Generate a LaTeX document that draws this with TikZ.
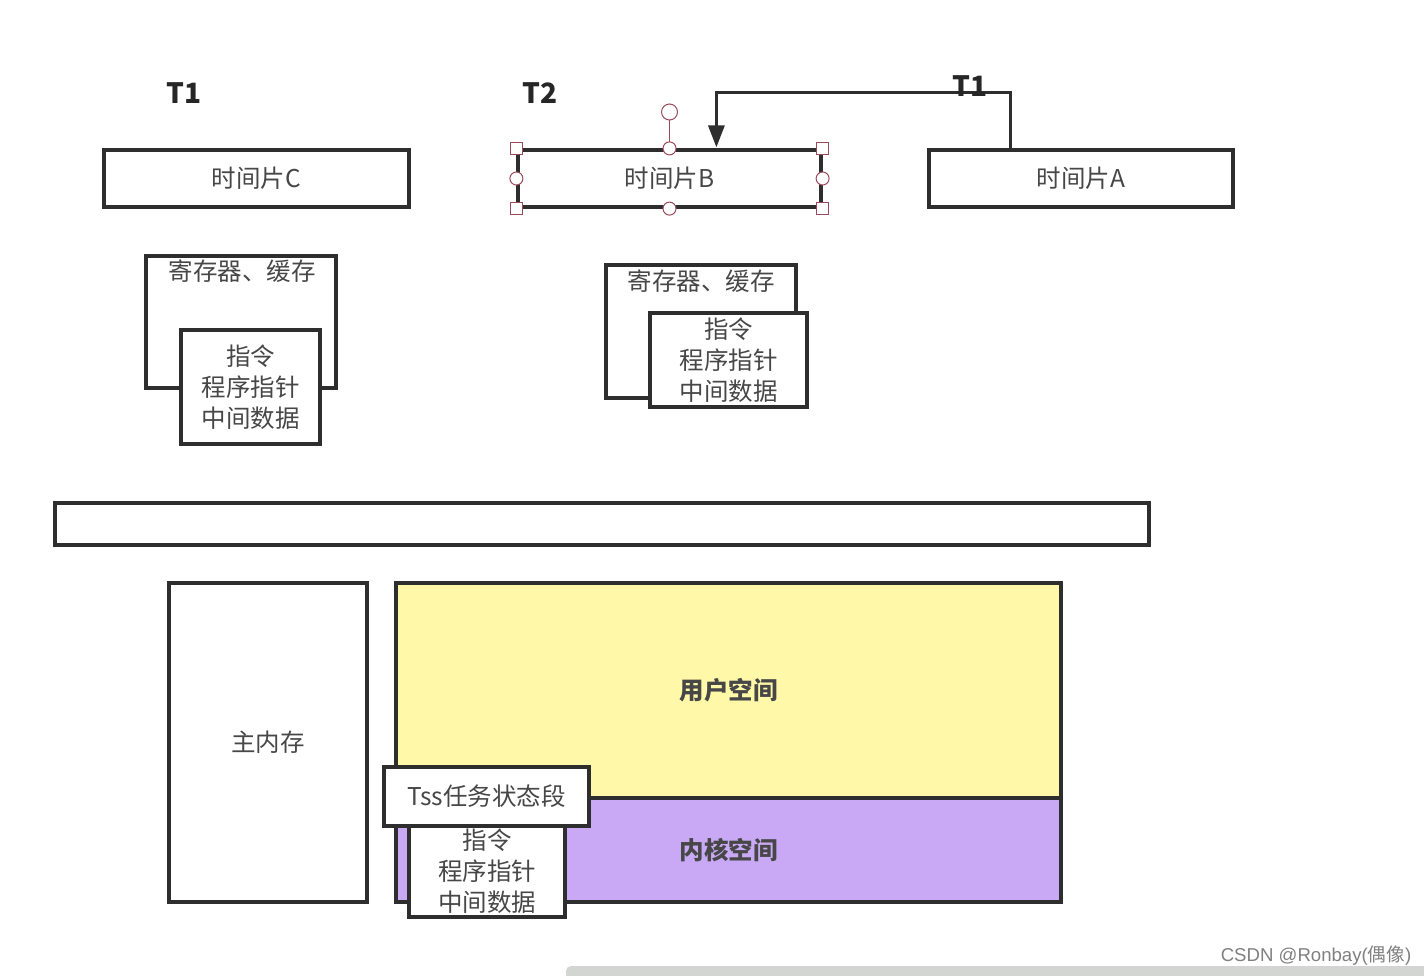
\documentclass[tikz,border=0pt]{standalone}
\usepackage{fontspec}
\setmainfont{Noto Sans CJK SC}
\newfontfamily\wmfont{Liberation Sans}
\newfontfamily\wmcjk{Noto Sans CJK SC}
\usetikzlibrary{arrows.meta}
\definecolor{txt}{HTML}{474747}
\definecolor{edge}{HTML}{2E2E2E}
\definecolor{userfill}{HTML}{FFF8A8}
\definecolor{kernfill}{HTML}{C9A9F5}
\definecolor{handle}{HTML}{9A4A5A}
\definecolor{barg}{HTML}{D3D5D3}
\begin{document}
\begin{tikzpicture}[x=1pt,y=-1pt,
  box/.style={draw=edge, line width=3.2pt, fill=white, inner sep=0pt, text=txt,
    font=\fontsize{24.5}{31}\selectfont, align=center},
  lbl/.style={inner sep=0pt, text=txt, font=\fontsize{24.5}{31}\selectfont, align=center},
  tlabel/.style={inner sep=0pt, text=black!85, font=\fontsize{28}{30}\selectfont\bfseries},
  sq/.style={draw=handle, line width=1pt, fill=white, minimum size=12pt, inner sep=0pt},
  rd/.style={draw=handle, line width=1pt, fill=white, circle, minimum size=13pt, inner sep=0pt},
  conn/.style={draw=edge, line width=3.2pt, -{Triangle[length=22pt,width=16pt]}}]
\useasboundingbox (0,0) rectangle (1424,976);
\fill[white] (0,0) rectangle (1424,976);

% top labels
\node[tlabel] (t1a) at (184,93) {T1};
\node[tlabel] (t2) at (540,93) {T2};

% time slices
\node[box, minimum width=305pt, minimum height=57pt] (tC) at (256.5,178.5) {时间片C};
\node[box, minimum width=303pt, minimum height=57pt] (tB) at (669.5,178.5) {时间片B};
\node[box, minimum width=304pt, minimum height=57pt] (tA) at (1081,178.5) {时间片A};

% connector A -> B
\draw[conn] ([xshift=83pt]tA.north west) -- ++(0,-56) -| ([xshift=200pt,yshift=1pt]tB.north west);
\node[tlabel] (t1b) at (970,86) {T1};

% selection handles on B
\draw[handle, line width=1pt] (669.5,120) -- (tB.north);
\node[rd, minimum size=16pt] (rot) at (669.5,112) {};
\node[sq] (h1) at (tB.north west) {};
\node[sq] (h2) at (tB.north east) {};
\node[sq] (h3) at (tB.south west) {};
\node[sq] (h4) at (tB.south east) {};
\node[rd] (h5) at (tB.north) {};
\node[rd] (h6) at (tB.south) {};
\node[rd] (h7) at (tB.west) {};
\node[rd] (h8) at (tB.east) {};

% register groups
\node[box, minimum width=190pt, minimum height=132pt] (regL) at (241,322) {};
\node[lbl] (regLt) at (242,271) {寄存器、缓存};
\node[box, minimum width=139pt, minimum height=114pt] (insL) at (250.5,387) {指令\\程序指针\\中间数据};

\node[box, minimum width=190pt, minimum height=133pt] (regM) at (701,331.5) {};
\node[lbl] (regMt) at (701,281) {寄存器、缓存};
\node[box, minimum width=157pt, minimum height=94pt] (insM) at (728.5,360) {指令\\程序指针\\中间数据};

% long bar
\node[box, minimum width=1094pt, minimum height=42pt] (bar) at (602,524) {};

% memory
\node[box, minimum width=198pt, minimum height=319pt] (mem) at (268,742.5) {主内存};
\node[box, fill=userfill, minimum width=665pt, minimum height=215pt, font=\fontsize{24.5}{31}\selectfont\bfseries] (user) at (728.5,690.5) {用户空间};
\node[box, fill=kernfill, minimum width=665pt, minimum height=104pt, font=\fontsize{24.5}{31}\selectfont\bfseries] (kern) at (728.5,850) {内核空间};

\node[box, minimum width=156pt, minimum height=91pt] (insK) at (487,871.5) {指令\\程序指针\\中间数据};
\node[box, minimum width=205pt, minimum height=59pt] (tss) at (486.5,796.5) {Tss任务状态段};

% watermark and bottom bar
\fill[barg, rounded corners=5pt] (566,966) rectangle (1430,982);
\node[inner sep=0pt, text=black!50, font=\wmfont\fontsize{18.6}{21}\selectfont] (wm) at (1316,956) {CSDN @Ronbay({\wmcjk 偶像})};
\end{tikzpicture}
\end{document}
